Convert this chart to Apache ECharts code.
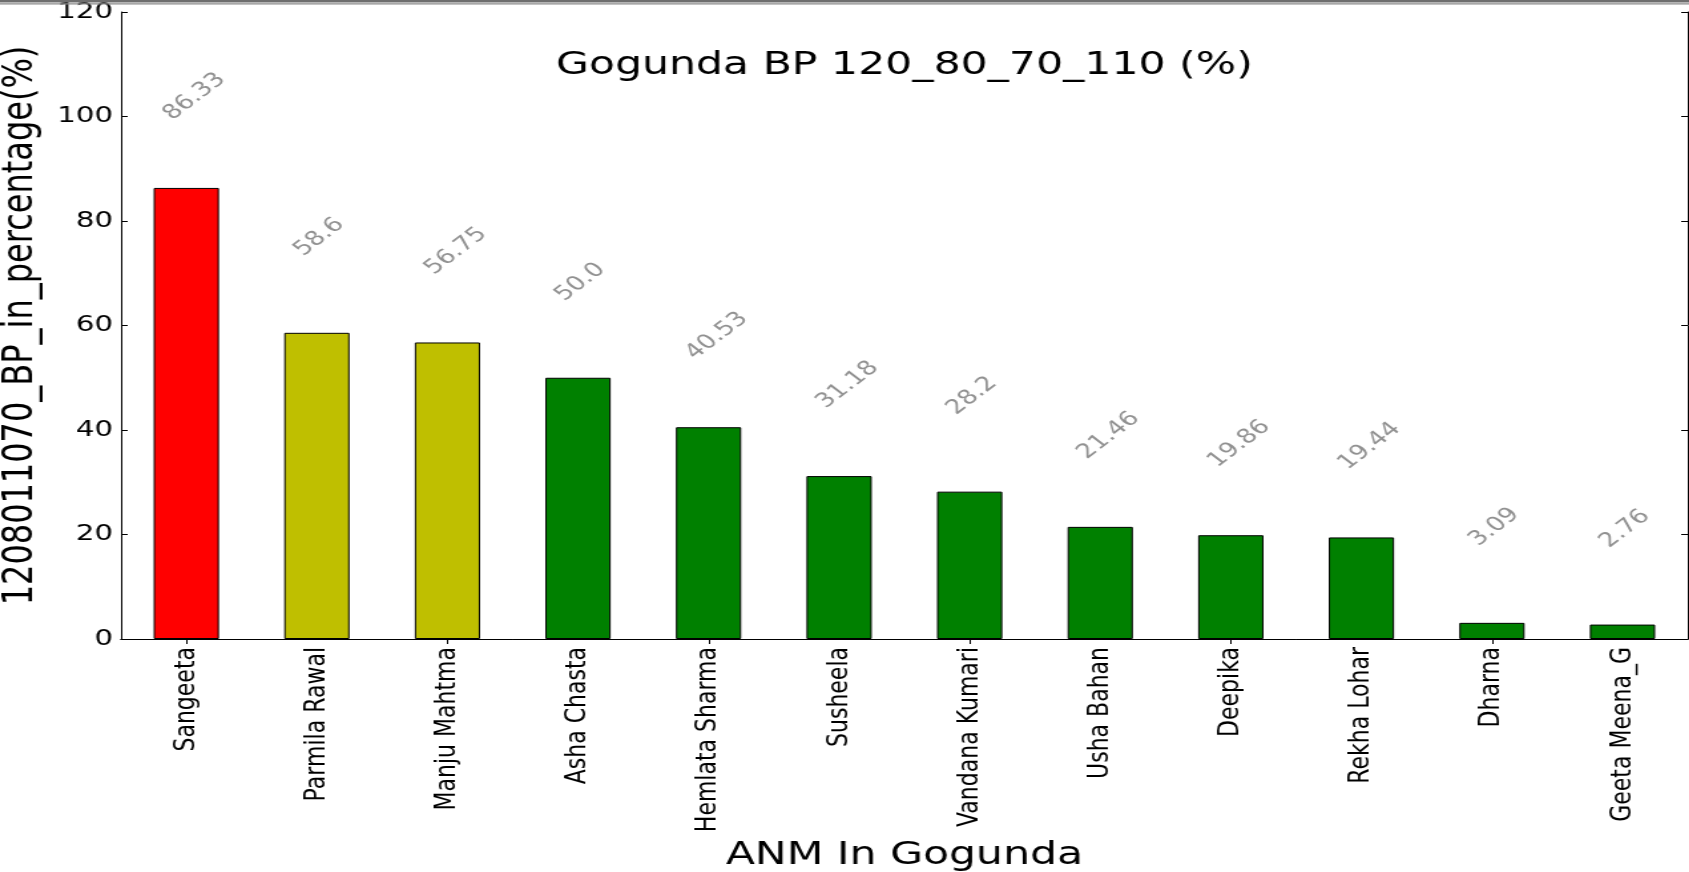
<!DOCTYPE html>
<html>
<head>
<meta charset="utf-8">
<script src="https://cdn.jsdelivr.net/npm/echarts@6/dist/echarts.min.js"></script>
<style>
html,body{margin:0;padding:0;background:#fff;overflow:hidden;}
#wrap{width:1689px;height:872px;overflow:hidden;position:relative;background:#fff;}
#chart{width:1270px;height:872px;transform:scaleX(1.33);transform-origin:0 0;}
</style>
</head>
<body>
<div id="wrap"><div id="chart"></div></div>
<script>
// ---- data ----
const categories = ['Sangeeta','Parmila Rawal','Manju Mahtma','Asha Chasta','Hemlata Sharma','Susheela','Vandana Kumari','Usha Bahan','Deepika','Rekha Lohar','Dharna','Geeta Meena_G'];
const values = [86.33, 58.6, 56.75, 50.0, 40.53, 31.18, 28.2, 21.46, 19.86, 19.44, 3.09, 2.76];
const valueLabels = ['86.33','58.6','56.75','50.0','40.53','31.18','28.2','21.46','19.86','19.44','3.09','2.76'];
const barColors = ['#ff0000','#bfbf00','#bfbf00','#008000','#008000','#008000','#008000','#008000','#008000','#008000','#008000','#008000'];
const yMin = 0, yMax = 120, yInterval = 20;
const titleText = 'Gogunda BP 120_80_70_110 (%)';
const xName = 'ANM In Gogunda';
const yName = '1208011070_BP_in_percentage(%)';

// ---- style constants ----
const FONT = '"DejaVu Sans", "Bitstream Vera Sans", sans-serif';
const LABEL_FONT_SIZE = 20;
const LABEL_RISE = 22.7;      // label box top sits this far above value (axis units)
const LABEL_SHIFT_X = -21;    // px, leftmost point relative to bar centre
const ROT = 45;

const measureCtx = document.createElement('canvas').getContext('2d');
measureCtx.font = LABEL_FONT_SIZE + 'px ' + FONT;
function labelOffset(text) {
  const L = measureCtx.measureText(text).width;
  const c = Math.cos(ROT * Math.PI / 180), s = Math.sin(ROT * Math.PI / 180);
  const Dx = LABEL_SHIFT_X, Dy = s * L;
  return [Dx * c - Dy * s, Dx * s + Dy * c];
}

const chart = echarts.init(document.getElementById('chart'), null, {renderer: 'canvas'});

const axisLineStyle = {color: '#000', width: 1};
const option = {
  animation: false,
  backgroundColor: '#fff',
  grid: {left: 91, right: 1, top: 12, bottom: 233, containLabel: false, outerBoundsMode: 'none'},
  xAxis: [{
    type: 'category',
    data: categories,
    position: 'bottom',
    name: xName,
    nameLocation: 'middle',
    nameGap: 199,
    nameTextStyle: {fontSize: 32, color: '#000', fontFamily: FONT},
    axisLine: {show: true, lineStyle: axisLineStyle},
    axisTick: {show: true, inside: true, alignWithLabel: true, length: 5, lineStyle: axisLineStyle},
    axisLabel: {rotate: 90, interval: 0, margin: 8, fontSize: 22, color: '#000', fontFamily: FONT},
    splitLine: {show: false}
  }, {
    type: 'category',
    data: categories,
    position: 'top',
    axisLine: {show: true, lineStyle: axisLineStyle},
    axisTick: {show: true, inside: true, alignWithLabel: true, length: 5, lineStyle: axisLineStyle},
    axisLabel: {show: false},
    splitLine: {show: false}
  }],
  yAxis: [{
    type: 'value',
    min: yMin, max: yMax, interval: yInterval,
    position: 'left',
    name: yName,
    nameLocation: 'middle',
    nameGap: 48,
    nameTextStyle: {fontSize: 32, color: '#000', fontFamily: FONT},
    axisLine: {show: true, lineStyle: axisLineStyle},
    axisTick: {show: true, inside: true, length: 5, lineStyle: axisLineStyle},
    axisLabel: {margin: 6, fontSize: 22, color: '#000', fontFamily: FONT},
    splitLine: {show: false}
  }, {
    type: 'value',
    min: yMin, max: yMax, interval: yInterval,
    position: 'right',
    axisLine: {show: true, lineStyle: axisLineStyle},
    axisTick: {show: true, inside: true, length: 5, lineStyle: axisLineStyle},
    axisLabel: {show: false},
    splitLine: {show: false}
  }],
  graphic: [
    {type: 'text', x: 680, y: 50, z: 10,
     style: {text: titleText, fontSize: 32, fontFamily: FONT, fill: '#000', align: 'center', verticalAlign: 'top'}},
    {type: 'rect', z: 100, shape: {x: 0, y: 0, width: 1270, height: 2.5}, style: {fill: '#6e6e6e'}},
    {type: 'rect', z: 100, shape: {x: 0, y: 3.2, width: 1270, height: 1.3}, style: {fill: '#8a8a8a'}}
  ],
  series: [{
    type: 'bar',
    xAxisIndex: 0, yAxisIndex: 0,
    barWidth: '50%',
    data: values.map((v, i) => ({value: v, itemStyle: {color: barColors[i]}})),
    itemStyle: {borderColor: '#000', borderWidth: 1},
    silent: true
  }, {
    type: 'scatter',
    xAxisIndex: 0, yAxisIndex: 0,
    symbolSize: 0,
    silent: true,
    data: values.map((v, i) => ({
      value: [i, v + LABEL_RISE],
      label: {formatter: valueLabels[i], offset: labelOffset(valueLabels[i])}
    })),
    label: {
      show: true, position: 'inside', rotate: ROT,
      align: 'left', verticalAlign: 'top',
      fontSize: LABEL_FONT_SIZE, fontFamily: FONT, color: '#757575'
    }
  }]
};
chart.setOption(option);
</script>
</body>
</html>
